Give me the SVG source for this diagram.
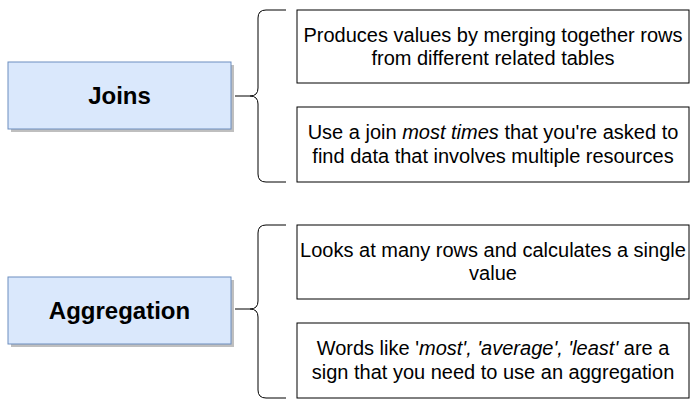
<svg xmlns="http://www.w3.org/2000/svg" width="698" height="407" viewBox="0 0 698 407">
<style>
.main{fill:#dae8fc;stroke:#6c8ebf;stroke-width:1}
.shadow{fill:#000;opacity:0.25}
.box{fill:#fff;stroke:#000;stroke-width:1}
.brace{fill:none;stroke:#000;stroke-width:1}
.t{font-family:"Liberation Sans",Arial,sans-serif;font-size:20px;fill:#000;text-anchor:middle}
.h{font-family:"Liberation Sans",Arial,sans-serif;font-size:24px;font-weight:bold;fill:#000;text-anchor:middle}
</style>
<rect width="698" height="407" fill="#fff"/>
<g id="joins">
<rect class="shadow" x="11" y="65" width="223" height="67"/>
<rect class="main" x="8" y="62" width="223" height="67"/>
<text class="h" x="119.5" y="104">Joins</text>
</g>
<g id="aggregation">
<rect class="shadow" x="11" y="280" width="223" height="67"/>
<rect class="main" x="8" y="277" width="223" height="67"/>
<text class="h" x="119.5" y="319">Aggregation</text>
</g>
<g id="connectors">
<path class="brace" d="M286,10 H266 Q258,10 258,18 V88 Q258,96 250,96 H235 M250,96 Q258,96 258,104 V174 Q258,182 266,182 H286"/>
<path class="brace" d="M286,225 H266 Q258,225 258,233 V301 Q258,309 250,309 H235 M250,309 Q258,309 258,317 V390 Q258,398 266,398 H286"/>
</g>
<g id="n1">
<rect class="box" x="297" y="10" width="392" height="73"/>
<text class="t" x="493" y="41.5">Produces values by merging together rows</text>
<text class="t" x="493" y="65">from different related tables</text>
</g>
<g id="n2">
<rect class="box" x="297" y="107" width="392" height="75"/>
<text class="t" x="493" y="139">Use a join <tspan font-style="italic">most times</tspan> that you're asked to</text>
<text class="t" x="493" y="162.5">find data that involves multiple resources</text>
</g>
<g id="n3">
<rect class="box" x="297" y="225" width="392" height="74"/>
<text class="t" x="493" y="256.5">Looks at many rows and calculates a single</text>
<text class="t" x="493" y="280">value</text>
</g>
<g id="n4">
<rect class="box" x="297" y="323" width="392" height="75"/>
<text class="t" x="493" y="355">Words like '<tspan font-style="italic">most', 'average', 'least'</tspan> are a</text>
<text class="t" x="493" y="378.5">sign that you need to use an aggregation</text>
</g>
</svg>
